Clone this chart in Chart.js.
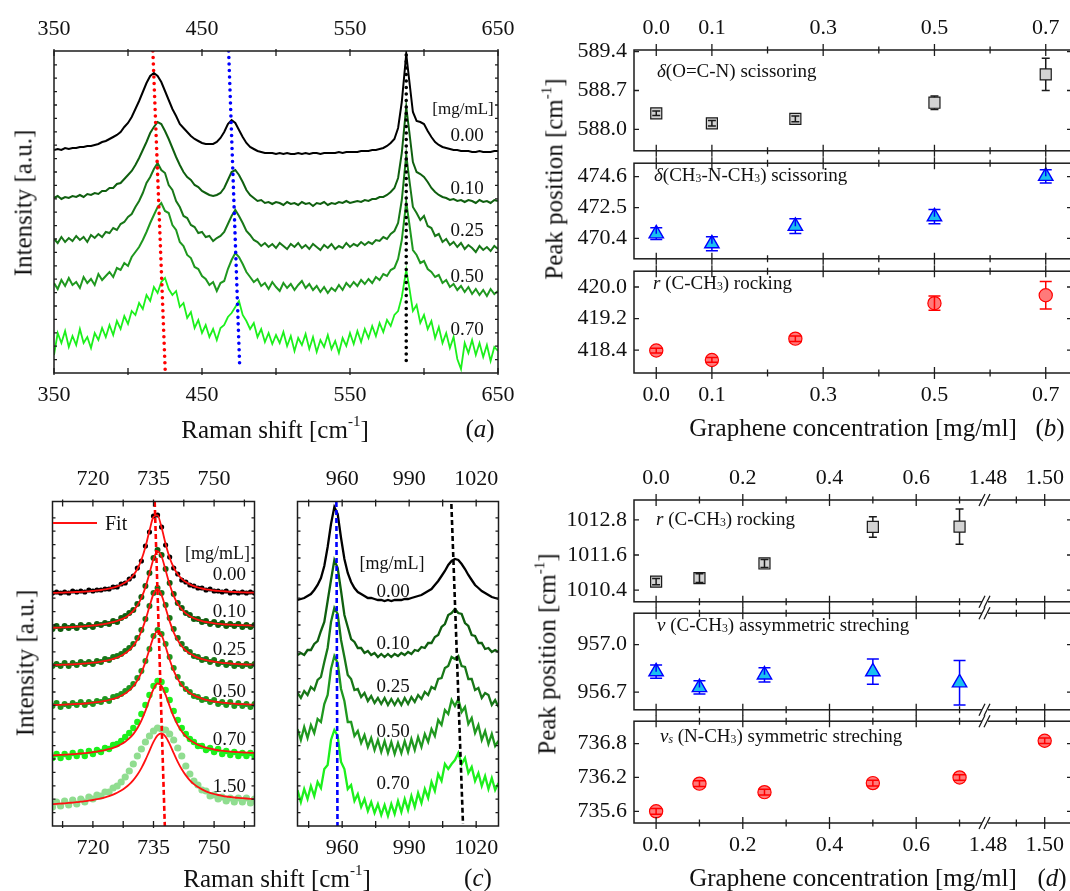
<!DOCTYPE html>
<html>
<head>
<meta charset="utf-8">
<script src="https://cdn.jsdelivr.net/npm/chart.js@4.4.0/dist/chart.umd.min.js"></script>
<style>
body { margin: 0; background: #fff; }
#page { position: relative; width: 1070px; height: 891px; overflow: hidden; background: #fff;
        font-family: 'Liberation Serif', 'Times New Roman', serif; color: #111; }
canvas { position: absolute; }
.t { position: absolute; white-space: nowrap; line-height: 1; }
.t sub { font-size: 0.62em; vertical-align: -0.08em; }
.t sup { font-size: 0.6em; vertical-align: 0.75em; }
</style>
</head>
<body>
<div id="page"></div>
<script>
// ---------- panel (a): Raman spectra 350-650 cm-1 ----------
const ramanShiftA = [350,352.5,355,357.5,360,362.5,365,367.5,370,372.5,375,377.5,380,382.5,385,387.5,390,392.5,395,397.5,
  400,402.5,405,407.5,410,412.5,415,417.5,420,422.5,425,427.5,430,432.5,435,437.5,440,442.5,445,447.5,
  450,452.5,455,457.5,460,462.5,465,467.5,470,472.5,475,477.5,480,482.5,485,487.5,490,492.5,495,497.5,
  500,502.5,505,507.5,510,512.5,515,517.5,520,522.5,525,527.5,530,532.5,535,537.5,540,542.5,545,547.5,
  550,552.5,555,557.5,560,562.5,565,567.5,570,572.5,575,577.5,580,582.5,585,
  588,590,592.5,595,597.5,600,602.5,605,607.5,610,612.5,615,617.5,620,622.5,625,627.5,630,632.5,635,637.5,640,642.5,645,647.5,650];
const intA000 = [223,224,223,225,224,225,225,226,226,227,227,228,229,231,232,234,236,238,241,246,
  250,256,264,272,281,290,297,300,297,291,282,273,264,257,249,245,241,237,234,232,
  230,229,229,229,231,235,241,249,253,250,243,236,230,226,224,222,221,220,220,220,
  219,220,219,220,219,219,220,219,220,219,220,220,219,220,220,220,220,221,220,221,
  221,221,221,222,222,222,223,223,224,225,227,230,234,245,271,
  319,293,261,252,251,249,242,236,231,228,226,225,224,223,223,222,222,222,221,221,222,221,221,221,222,222];
const intA010 = [175,177,174,176,175,177,176,178,176,179,178,180,179,182,182,185,185,189,190,194,
  198,202,208,215,223,231,240,246,251,249,242,234,225,216,208,201,196,193,188,186,
  182,180,178,177,178,180,185,193,201,203,198,191,183,178,175,172,173,170,171,169,
  171,170,168,171,169,170,168,171,169,170,167,170,169,171,168,170,169,171,170,172,
  170,171,172,171,173,172,174,174,176,176,178,181,185,195,220,
  266,242,211,201,199,196,191,185,181,178,176,175,173,174,172,173,171,173,172,170,173,171,172,170,173,172];
const intA025 = [134,130,136,131,135,132,137,133,136,131,138,135,139,136,141,140,145,143,149,151,
  156,159,166,172,180,190,196,204,210,203,200,188,183,172,166,157,155,148,146,140,
  141,136,137,132,135,137,141,149,157,163,157,150,142,138,133,131,127,130,126,129,
  125,130,127,124,129,126,130,125,128,124,129,126,123,128,125,129,124,127,125,130,
  126,129,127,131,128,131,129,133,132,136,134,139,142,150,173,
  218,194,166,160,153,157,147,145,137,139,131,134,128,131,126,130,124,128,125,121,127,123,126,122,127,124];
const intA050 = [90,84,93,87,95,88,91,85,96,90,94,88,99,93,97,101,96,105,103,110,
  107,116,121,126,133,141,150,158,166,170,162,160,148,143,131,127,118,115,106,104,
  97,94,88,91,82,90,92,104,113,120,116,109,101,96,91,94,87,90,84,91,
  86,82,90,85,89,83,88,92,85,89,83,87,81,86,80,85,82,88,83,90,
  86,91,87,93,89,94,90,96,93,99,97,103,105,114,133,
  171,150,123,118,110,112,104,101,96,98,90,93,86,89,83,87,81,86,79,84,78,83,77,84,79,82];
const intA070 = [18,40,30,42,26,37,28,44,30,36,25,40,33,45,36,48,38,52,44,57,
  49,62,58,70,64,78,72,86,80,91,95,84,78,82,66,70,55,61,45,53,
  40,48,36,44,33,45,48,56,60,66,72,58,52,44,50,36,44,31,40,29,
  38,30,41,27,37,22,35,28,39,24,36,21,33,26,38,24,32,20,35,27,
  40,29,42,31,44,35,47,37,50,41,53,47,58,62,76,
  103,86,62,68,50,58,44,52,35,46,30,40,25,36,14,4,30,20,33,18,30,16,28,12,26,22];
const guideA418X = [416.8, 425.2], guideA418Y = [322, 0];
const guideA470X = [468, 475.5], guideA470Y = [322, 5];
const guideA588X = [588, 588], guideA588Y = [318, 10];
const ticksAX = [350, 400, 450, 500, 550, 600, 650];
const labelsAX = [350, 450, 550, 650];

// ---------- panel (c), left: 735 band with fits ----------
const ramanShiftC1 = [710,711,712,713,714,715,716,717,718,719,720,721,722,723,724,725,726,727,728,729,730,
  731,732,733,734,735,736,737,738,739,740,741,742,743,744,745,746,747,748,749,750,
  751,752,753,754,755,756,757,758,759,760];
const fitC000 = [233.2,233.2,233.4,233.5,233.6,233.8,234.0,234.2,234.4,234.7,235.0,235.5,236.0,236.6,237.3,238.3,
  239.6,241.2,243.4,246.5,250.8,257.0,266.1,279.0,295.2,309.1,310.7,298.4,282.0,268.3,258.5,251.8,247.2,243.9,
  241.6,239.8,238.5,237.5,236.7,236.1,235.5,235.1,234.8,234.5,234.2,234.0,233.8,233.6,233.5,233.4,233.3];
const dotC000 = [233,234,233,234,233,235,234,235,234,236,235,236,236,237,237,239,239,242,243,247,250,
  258,265,280,294,310,311,299,281,269,258,252,246,244,241,240,238,238,236,237,235,235,234,235,233,234,233,234,233,234,233];
const fitC010 = [198.2,198.3,198.5,198.7,198.8,199.0,199.3,199.5,199.8,200.1,200.5,200.9,201.5,202.1,202.9,203.8,
  205.0,206.6,208.6,211.4,215.2,220.4,228.1,238.6,252.6,267.0,274.6,269.5,255.7,241.5,230.2,222.1,216.6,212.6,
  209.8,207.7,206.1,204.9,204.0,203.3,202.7,202.2,201.9,201.5,201.3,201.1,200.9,200.8,200.6,200.5,200.4];
const dotC010 = [197,200,197,200,198,200,198,201,199,201,199,202,201,203,202,205,204,208,210,213,216,
  222,229,240,253,268,276,271,257,243,232,223,218,213,211,207,207,204,205,202,204,201,203,200,202,200,202,199,201,199,201];
const fitC025 = [161.0,161.1,161.2,161.4,161.5,161.7,161.9,162.2,162.5,162.8,163.3,163.7,164.3,165.1,165.9,167.1,
  168.5,170.3,172.7,175.9,180.3,186.3,194.7,205.9,219.4,232.0,237.0,230.9,218.0,204.6,193.7,185.6,179.8,175.5,
  172.4,170.1,168.3,166.9,165.9,165.0,164.3,163.7,163.2,162.8,162.5,162.2,161.9,161.7,161.5,161.3,161.2];
const dotC025 = [160,162,160,163,160,163,161,164,162,164,162,165,164,167,166,169,170,172,175,178,182,
  188,196,207,220,233,238,233,221,208,197,188,182,177,174,170,169,166,167,164,166,162,164,161,163,160,162,160,162,160,162];
const fitC050 = [121.0,121.1,121.2,121.4,121.6,121.8,122.0,122.2,122.5,122.9,123.3,123.8,124.4,125.1,126.0,127.1,
  128.4,130.2,132.5,135.6,139.8,145.5,153.4,163.9,176.6,188.9,194.9,190.8,179.2,166.3,155.3,146.9,140.8,136.4,
  133.1,130.6,128.8,127.3,126.2,125.2,124.5,123.9,123.4,123.0,122.6,122.3,122.0,121.8,121.6,121.4,121.3];
const dotC050 = [120,123,119,122,120,123,121,124,121,124,122,125,124,127,125,129,130,132,135,138,142,
  148,155,165,177,190,196,192,182,169,158,149,142,137,134,130,129,126,127,124,126,122,124,121,124,120,123,120,122,119,122];
const fitC070 = [70.7,70.9,71.1,71.3,71.6,71.8,72.1,72.5,72.8,73.3,73.8,74.4,75.1,75.9,77.0,78.2,
  79.7,81.7,84.2,87.6,91.9,97.7,105.4,115.1,126.5,137.0,142.5,140.1,131.1,119.8,109.3,100.9,94.5,89.7,
  86.1,83.4,81.2,79.6,78.3,77.3,76.5,75.8,75.3,74.8,74.4,74.1,73.8,73.6,73.4,73.2,73.1];
const dotC070 = [68,72,68,72,69,73,70,74,70,75,72,76,74,78,77,81,82,85,89,93,98,
  104,112,121,131,140,145,144,136,126,115,106,98,92,87,84,80,80,76,78,74,77,72,75,71,74,70,73,70,73,70];
const fitC150 = [21.9,22.1,22.4,22.7,23.1,23.4,23.8,24.3,24.8,25.4,26.0,26.8,27.7,28.7,29.9,31.4,
  33.2,35.4,38.2,41.6,45.9,51.2,57.9,66.0,75.1,84.1,90.7,92.7,89.3,81.9,72.9,64.2,56.7,50.6,
  45.7,41.9,38.9,36.6,34.7,33.2,32.0,31.0,30.2,29.5,29.0,28.5,28.1,27.8,27.5,27.2,26.9];
const dotC150 = [19,24,20,25,21,26,22,27,24,29,27,31,30,34,34,38,40,44,49,55,62,
  70,77,84,90,95,98,97,96,92,86,78,70,60,52,45,41,36,35,30,31,27,29,25,28,24,28,24,28,23,27];
const guideC735X = [735.3, 737.8], guideC735Y = [324, 0];
const ticksC1X = [712.5, 720, 727.5, 735, 742.5, 750, 757.5];
const labelsC1X = [720, 735, 750];

// ---------- panel (c), right: 940-1030 cm-1 ----------
const ramanShiftC2 = [940,941.5,943,944.5,946,947.5,949,950.5,952,953.5,955,956.5,958,959.5,961,962.5,964,965.5,967,968.5,
  970,971.5,973,974.5,976,977.5,979,980.5,982,983.5,985,986.5,988,989.5,991,992.5,994,995.5,997,998.5,
  1000,1001.5,1003,1004.5,1006,1007.5,1009,1010.5,1012,1013.5,1015,1016.5,1018,1019.5,1021,1022.5,1024,1025.5,1027,1028.5,1030];
const intC2000 = [226,227,228,230,232,236,241,248,260,279,302,319,312,288,267,253,244,238,234,232,
  230,228,228,227,226,226,225,226,225,226,226,226,227,227,228,229,230,231,233,235,
  237,241,245,250,255,261,265,267,266,262,257,251,246,241,238,235,233,231,229,228,227];
const intC2010 = [171,173,171,176,176,182,185,195,204,225,246,266,258,235,211,199,187,184,178,178,
  173,175,171,173,169,172,169,172,169,172,170,173,171,174,172,176,175,179,178,183,
  183,189,191,199,202,211,213,217,213,212,203,200,191,190,183,183,177,178,174,176,174];
const intC2025 = [133,128,135,131,139,136,146,149,164,178,204,218,212,186,169,151,147,136,137,129,
  133,125,130,123,128,122,128,121,127,121,127,121,128,122,129,124,131,127,134,131,
  139,137,147,148,158,160,169,167,170,160,159,147,147,136,138,128,133,131,121,126,119];
const intC2050 = [97,86,99,88,101,93,107,104,122,131,157,170,163,137,125,104,104,90,95,83,
  91,79,88,76,86,74,85,73,84,72,83,73,85,74,87,76,89,79,92,84,
  97,90,106,101,116,112,126,120,127,114,119,102,108,93,101,86,95,82,92,80,85];
const intC2070 = [36,24,37,27,40,30,44,38,57,61,86,96,90,64,57,37,41,25,32,19,
  27,15,24,13,22,11,21,10,22,12,25,14,27,16,30,19,33,23,37,28,
  44,35,52,45,62,57,62,66,73,62,68,53,59,45,53,40,50,37,48,36,43];
const guideC957X = [957.4, 957.9], guideC957Y = [324, 0];
const guideC1010X = [1008.9, 1014.1], guideC1010Y = [322, 2];
const ticksC2X = [945, 960, 975, 990, 1005, 1020];
const labelsC2X = [960, 990, 1020];

// ---------- panel (b): peak positions vs concentration ----------
const concentration = [0, 0.1, 0.25, 0.5, 0.7];
const peakOCN = [588.29, 588.11, 588.19, 588.48, 588.99];
const peakOCNErr = [0.04, 0.05, 0.05, 0.12, 0.29];
const peakCNC = [470.72, 470.04, 471.23, 471.88, 474.63];
const peakCNCErr = [0.40, 0.48, 0.50, 0.49, 0.45];
const peakCC418 = [418.39, 418.15, 418.69, 419.59, 419.79];
const peakCC418Err = [0.06, 0.06, 0.07, 0.18, 0.35];
const ticksBX = [0, 0.1, 0.2, 0.3, 0.4, 0.5, 0.6, 0.7];
const labelsBX = [0, 0.1, 0.3, 0.5, 0.7];
const ticksB1Y = [588.0, 588.7, 589.4];
const ticksB2Y = [470.4, 472.5, 474.6];
const ticksB3Y = [418.4, 419.2, 420.0];

// ---------- panel (d): peak positions vs concentration (broken axis) ----------
const concentrationD = [0, 0.1, 0.25, 0.5, 0.7, 1.5];
const peakCC1010 = [1010.69, 1010.81, 1011.31, 1012.56, 1012.57];
const peakCC1010Err = [0.11, 0.15, 0.14, 0.35, 0.6];
const peakCC957 = [956.83, 956.73, 956.81, 956.83, 956.76];
const peakCC957Err = [0.042, 0.042, 0.045, 0.079, 0.14];
const peakNC736 = [735.6, 736.09, 735.94, 736.1, 736.2, 736.85];
const peakNC736Err = [0.05, 0.05, 0.05, 0.05, 0.05, 0.05];
const ticksDX = [0, 0.1, 0.2, 0.3, 0.4, 0.5, 0.6, 0.7, 1.49, 1.50];
const labelsDX = [0, 0.2, 0.4, 0.6, 1.48, 1.50];
const ticksD1Y = [1010.4, 1011.6, 1012.8];
const ticksD2Y = [956.7, 957.0];
const ticksD3Y = [735.6, 736.2, 736.8];

// axis break on (d): values above 1 are drawn right of the break
const BREAK_FROM = 1.48, BREAK_AT = 0.7656, BREAK_SCALE = 6.54, BREAK_MARK = 0.7587;
function axisPos(v) { return v < 1 ? v : BREAK_AT + (v - BREAK_FROM) * BREAK_SCALE; }

const FONT = "'Liberation Serif', 'Times New Roman', serif";
const COL = { c000: '#000000', c010: '#0f5f0f', c025: '#187818', c050: '#1f981f', c070: '#1cf01c', c150: '#90dd90' };
const page = document.getElementById('page');

function pts(xs, ys, fx) { return xs.map((x, i) => ({ x: fx ? fx(x) : x, y: ys[i] })); }
const near = (list, v) => list.some(l => Math.abs(l - v) < 1e-6);

function txt(html, x, y, size, anchor, rotate) {
  const d = document.createElement('div');
  d.className = 't';
  d.innerHTML = html;
  d.style.fontSize = size + 'px';
  d.style.left = x + 'px';
  d.style.top = y + 'px';
  const tx = anchor === 'l' ? '0' : anchor === 'r' ? '-100%' : '-50%';
  d.style.transform = 'translate(' + tx + ', -50%)' + (rotate ? ' rotate(-90deg)' : '');
  page.appendChild(d);
}

// scale whose box size is fixed, so the plot area lands where the picture has it
function tickAxis(min, max, ticks, labelFn, position, show, pad, size) {
  const horizontal = position === 'top' || position === 'bottom';
  return {
    type: 'linear', position: position, min: min, max: max, bounds: 'data',
    afterBuildTicks: s => { s.ticks = ticks.map(v => ({ value: v })); },
    afterFit: s => { if (horizontal) s.height = size; else s.width = size; },
    grid: { display: false, drawTicks: false },
    border: { display: false },
    ticks: { display: show, autoSkip: false, maxRotation: 0, minRotation: 0, padding: pad, color: '#111',
             font: { family: FONT, size: 22 }, callback: v => labelFn(v) }
  };
}

// frame, inward ticks and (optional) axis break
function framePlugin(o) {
  return {
    id: 'frame',
    afterDraw(chart) {
      const ctx = chart.ctx, a = chart.chartArea;
      const xs = chart.scales.x, ys = chart.scales.y;
      ctx.save();
      ctx.strokeStyle = '#1c1c1c';
      ctx.lineWidth = 1.5;
      ctx.strokeRect(a.left, a.top, a.right - a.left, a.bottom - a.top);
      ctx.lineWidth = 1.3;
      ctx.beginPath();
      o.xMarks.forEach(v => {
        const px = xs.getPixelForValue(v);
        const big = near(o.xMajor, v);
        const tin = big ? o.majIn : o.minIn, tout = big ? o.majOut : o.minOut;
        ctx.moveTo(px, a.top - tout); ctx.lineTo(px, a.top + tin);
        ctx.moveTo(px, a.bottom + tout); ctx.lineTo(px, a.bottom - tin);
      });
      o.yMarks.forEach(v => {
        const py = ys.getPixelForValue(v);
        ctx.moveTo(a.left, py); ctx.lineTo(a.left + o.yIn, py);
        ctx.moveTo(a.right, py); ctx.lineTo(a.right - o.yIn, py);
      });
      ctx.stroke();
      if (o.breakAt !== undefined) {
        const bx = xs.getPixelForValue(o.breakAt);
        [a.top, a.bottom].forEach(y => {
          ctx.fillStyle = '#fff';
          ctx.fillRect(bx - 3, y - 2, 6, 4);
          ctx.beginPath();
          ctx.moveTo(bx - 6, y + 6); ctx.lineTo(bx, y - 6);
          ctx.moveTo(bx - 1, y + 6); ctx.lineTo(bx + 5, y - 6);
          ctx.stroke();
        });
      }
      ctx.restore();
    }
  };
}

const errorBarPlugin = {
  id: 'errbars',
  afterDatasetsDraw(chart) {
    const ctx = chart.ctx;
    chart.data.datasets.forEach((ds, i) => {
      if (!ds.errs) return;
      const meta = chart.getDatasetMeta(i);
      const ys = chart.scales[meta.yAxisID];
      ctx.save();
      ctx.strokeStyle = ds.errColor;
      ctx.lineWidth = 1.5;
      meta.data.forEach((p, j) => {
        const v = ds.data[j].y, e = ds.errs[j];
        const y1 = ys.getPixelForValue(v + e), y2 = ys.getPixelForValue(v - e);
        const x = p.x, w = ds.capHalf, cy = p.y;
        ctx.beginPath();
        if (cy - y1 > ds.gapTop + 1) { ctx.moveTo(x, y1); ctx.lineTo(x, cy - ds.gapTop); }
        else { ctx.moveTo(x, y1); ctx.lineTo(x, cy); }
        if (y2 - cy > ds.gapBottom + 1) { ctx.moveTo(x, y2); ctx.lineTo(x, cy + ds.gapBottom); }
        else { ctx.moveTo(x, y2); ctx.lineTo(x, cy); }
        ctx.moveTo(x - w, y1); ctx.lineTo(x + w, y1);
        ctx.moveTo(x - w, y2); ctx.lineTo(x + w, y2);
        ctx.stroke();
      });
      ctx.restore();
    });
  }
};

function makeChart(box, pad, datasets, ax, frame) {
  const c = document.createElement('canvas');
  const cl = Math.floor(box.l - pad.l), ct = Math.floor(box.t - pad.t);
  const w = Math.ceil(box.r + pad.r) - cl, h = Math.ceil(box.b + pad.b) - ct;
  const padL = box.l - cl, padT = box.t - ct, padR = w - (box.r - cl), padB = h - (box.b - ct);
  c.width = w; c.height = h;
  c.style.left = cl + 'px'; c.style.top = ct + 'px';
  c.style.width = w + 'px'; c.style.height = h + 'px';
  page.appendChild(c);
  return new Chart(c, {
    type: 'scatter',
    data: { datasets: datasets },
    options: {
      responsive: false, animation: false, events: [], devicePixelRatio: 1,
      layout: { padding: { left: 0, top: 0, right: padR, bottom: 0 } },
      plugins: { legend: { display: false }, tooltip: { enabled: false } },
      scales: {
        x: tickAxis(ax.xMin, ax.xMax, ax.xTicks, ax.xLabel, 'bottom', !!ax.bottom, ax.padB || 9, padB),
        x2: tickAxis(ax.xMin, ax.xMax, ax.xTicks, ax.xLabel, 'top', !!ax.top, ax.padT || 9, padT),
        y: tickAxis(ax.yMin, ax.yMax, ax.yTicks, ax.yLabel || (() => ''), 'left', !!ax.left, 7, padL)
      }
    },
    plugins: [framePlugin(frame), errorBarPlugin]
  });
}

function spec(xs, ys, color, width, order) {
  return { data: pts(xs, ys), showLine: true, borderColor: color, borderWidth: width, pointRadius: 0, order: order || 0 };
}
function guide(xs, ys, color, dash, width, round) {
  return { data: pts(xs, ys), showLine: true, borderColor: color, borderWidth: width, borderDash: dash,
           borderCapStyle: round ? 'round' : 'butt', pointRadius: 0, order: -5 };
}
function dots(xs, ys, color, r) {
  return { data: pts(xs, ys), showLine: false, pointRadius: r, pointBorderWidth: 0,
           pointBackgroundColor: color, pointBorderColor: color, order: 2 };
}
function fit(xs, ys) {
  return { data: pts(xs, ys), showLine: true, borderColor: '#ff1010', borderWidth: 1.8,
           cubicInterpolationMode: 'monotone', pointRadius: 0, order: -1 };
}
const MARK = {
  square: { pointStyle: 'rect', pointRadius: 7.8, pointBackgroundColor: '#d3d3d3', pointBorderColor: '#1a1a1a',
            pointBorderWidth: 1.2, errColor: '#1a1a1a', capHalf: 4, gapTop: 5.5, gapBottom: 5.5 },
  triangle: { pointStyle: 'triangle', pointRadius: 8.3, pointBackgroundColor: '#19bff0', pointBorderColor: '#0000ff',
              pointBorderWidth: 1.4, errColor: '#0000ff', capHalf: 6, gapTop: 8, gapBottom: 4 },
  circle: { pointStyle: 'circle', pointRadius: 6.6, pointBackgroundColor: '#ff7a7a', pointBorderColor: '#ff0000',
            pointBorderWidth: 1.2, errColor: '#ff0000', capHalf: 6, gapTop: 6.6, gapBottom: 6.6 }
};
function markers(xs, ys, errs, kind, fx) {
  return Object.assign({ data: pts(xs, ys, fx), showLine: false, errs: errs }, MARK[kind]);
}

const spectraYMinor = [];
for (let v = 13.4; v < 320; v += 13.4) spectraYMinor.push(v);

// ---------- (a) ----------
makeChart({ l: 54, t: 51, r: 498, b: 373 }, { l: 30, t: 42, r: 30, b: 42 }, [
  guide(guideA418X, guideA418Y, '#ff0000', [0, 6.5], 3.6, true),
  guide(guideA470X, guideA470Y, '#0000ff', [0, 6.5], 3.6, true),
  guide(guideA588X, guideA588Y, '#000000', [0, 6.5], 3.6, true),
  spec(ramanShiftA, intA000, COL.c000, 2),
  spec(ramanShiftA, intA010, COL.c010, 2),
  spec(ramanShiftA, intA025, COL.c025, 2),
  spec(ramanShiftA, intA050, COL.c050, 2),
  spec(ramanShiftA, intA070, COL.c070, 1.8)
], { xMin: 350, xMax: 650, xTicks: ticksAX, xLabel: v => near(labelsAX, v) ? String(v) : '',
     yMin: 0, yMax: 322, yTicks: [], top: true, bottom: true, padT: 9, padB: 9 },
   { xMarks: ticksAX, xMajor: labelsAX, majIn: 5, majOut: 2, minIn: 5, minOut: 2, yMarks: spectraYMinor, yIn: 3 });

txt('Intensity [a.u.]', 23, 203, 25, 'c', true);
txt('Raman shift [cm<sup>-1</sup>]', 275, 428, 25, 'c');
txt('(<i>a</i>)', 480, 428, 25, 'c');
txt('[mg/mL]', 463, 108, 17, 'c');
[['0.00', 134], ['0.10', 187], ['0.25', 229], ['0.50', 275], ['0.70', 328]].forEach(p => txt(p[0], 467, p[1], 19, 'c'));

// ---------- (c) left ----------
makeChart({ l: 52.5, t: 501.5, r: 254.5, b: 826 }, { l: 30, t: 42, r: 24, b: 42 }, [
  guide(guideC735X, guideC735Y, '#ff0000', [5, 3], 2.6, false),
  fit(ramanShiftC1, fitC000), fit(ramanShiftC1, fitC010), fit(ramanShiftC1, fitC025),
  fit(ramanShiftC1, fitC050), fit(ramanShiftC1, fitC070), fit(ramanShiftC1, fitC150),
  dots(ramanShiftC1, dotC000, COL.c000, 2.6),
  dots(ramanShiftC1, dotC010, COL.c010, 3),
  dots(ramanShiftC1, dotC025, COL.c025, 3),
  dots(ramanShiftC1, dotC050, COL.c050, 3),
  dots(ramanShiftC1, dotC070, COL.c070, 3.2),
  dots(ramanShiftC1, dotC150, COL.c150, 3.6)
], { xMin: 710, xMax: 760, xTicks: ticksC1X, xLabel: v => near(labelsC1X, v) ? String(v) : '',
     yMin: 0, yMax: 324.5, yTicks: [], top: true, bottom: true, padT: 9, padB: 9 },
   { xMarks: ticksC1X, xMajor: labelsC1X, majIn: 5, majOut: 2, minIn: 5, minOut: 2, yMarks: spectraYMinor, yIn: 3 });

// ---------- (c) right ----------
makeChart({ l: 297.5, t: 501.5, r: 498.5, b: 826 }, { l: 24, t: 42, r: 30, b: 42 }, [
  guide(guideC957X, guideC957Y, '#0000ff', [5, 3], 2.6, false),
  guide(guideC1010X, guideC1010Y, '#000000', [5, 3], 2.6, false),
  spec(ramanShiftC2, intC2000, COL.c000, 2.3),
  spec(ramanShiftC2, intC2010, COL.c010, 2.3),
  spec(ramanShiftC2, intC2025, COL.c025, 2.3),
  spec(ramanShiftC2, intC2050, COL.c050, 2.3),
  spec(ramanShiftC2, intC2070, COL.c070, 2.3)
], { xMin: 940, xMax: 1030, xTicks: ticksC2X, xLabel: v => near(labelsC2X, v) ? String(v) : '',
     yMin: 0, yMax: 324.5, yTicks: [], top: true, bottom: true, padT: 9, padB: 9 },
   { xMarks: ticksC2X, xMajor: labelsC2X, majIn: 5, majOut: 2, minIn: 5, minOut: 2, yMarks: spectraYMinor, yIn: 3 });

txt('Intensity [a.u.]', 25, 663, 25, 'c', true);
txt('Raman shift [cm<sup>-1</sup>]', 277, 877, 25, 'c');
txt('(<i>c</i>)', 478, 877, 25, 'c');
const fitKey = document.createElement('div');
fitKey.style.cssText = 'position:absolute;left:53px;top:522px;width:44px;height:2px;background:#ff1010;';
page.appendChild(fitKey);
txt('Fit', 105, 523, 20, 'l');
txt('[mg/mL]', 250, 553, 18, 'r');
[['0.00', 573], ['0.10', 610], ['0.25', 648], ['0.50', 690], ['0.70', 738], ['1.50', 785]].forEach(p => txt(p[0], 246, p[1], 19, 'r'));
txt('[mg/mL]', 392, 563, 18, 'c');
[['0.00', 590], ['0.10', 642], ['0.25', 685], ['0.50', 730], ['0.70', 782]].forEach(p => txt(p[0], 393, p[1], 19, 'c'));

// ---------- (b) ----------
const bLabel = v => near(labelsBX, v) ? v.toFixed(1) : '';
const yFmt = v => v.toFixed(1);
const bFrame = yT => ({ xMarks: ticksBX, xMajor: labelsBX, majIn: 6, majOut: 6, minIn: 3.5, minOut: 3.5, yMarks: yT, yIn: 5 });
makeChart({ l: 634, t: 50, r: 1072, b: 157 }, { l: 95, t: 42, r: 10, b: 14 },
  [markers(concentration, peakOCN, peakOCNErr, 'square')],
  { xMin: -0.04, xMax: 0.7472, xTicks: ticksBX, xLabel: bLabel, yMin: 587.615, yMax: 589.429, yTicks: ticksB1Y,
    yLabel: yFmt, top: true, left: true, padT: 9 }, bFrame(ticksB1Y));
makeChart({ l: 634, t: 157, r: 1072, b: 265 }, { l: 95, t: 14, r: 10, b: 14 },
  [markers(concentration, peakCNC, peakCNCErr, 'triangle')],
  { xMin: -0.04, xMax: 0.7472, xTicks: ticksBX, xLabel: bLabel, yMin: 469.01, yMax: 475.52, yTicks: ticksB2Y,
    yLabel: yFmt, left: true }, bFrame(ticksB2Y));
makeChart({ l: 634, t: 265, r: 1072, b: 373 }, { l: 95, t: 14, r: 10, b: 42 },
  [markers(concentration, peakCC418, peakCC418Err, 'circle')],
  { xMin: -0.04, xMax: 0.7472, xTicks: ticksBX, xLabel: bLabel, yMin: 417.82, yMax: 420.40, yTicks: ticksB3Y,
    yLabel: yFmt, bottom: true, left: true, padB: 9 }, bFrame(ticksB3Y));

txt('Peak position [cm<sup>-1</sup>]', 553, 179, 25, 'c', true);
txt('Graphene concentration [mg/ml]', 853, 427, 25, 'c');
txt('(<i>b</i>)', 1050, 427, 25, 'c');
txt('<i>δ</i>(O=C-N) scissoring', 657, 70, 19, 'l');
txt('<i>δ</i>(CH<sub>3</sub>-N-CH<sub>3</sub>) scissoring', 654, 175, 19, 'l');
txt('<i>r</i> (C-CH<sub>3</sub>) rocking', 653, 283, 19, 'l');

// ---------- (d) ----------
const dTickPos = ticksDX.map(axisPos);
const dLabelPos = labelsDX.map(axisPos);
const dScaleTicks = dTickPos.concat([axisPos(1.48)]).sort((p, q) => p - q);
const dLabel = v => {
  const hit = labelsDX.find(l => Math.abs(axisPos(l) - v) < 1e-6);
  return hit === undefined ? '' : (hit < 1 ? hit.toFixed(1) : hit.toFixed(2));
};
const dFrame = yT => ({ xMarks: dTickPos, xMajor: dLabelPos, majIn: 6, majOut: 6, minIn: 3.5, minOut: 3.5,
                        yMarks: yT, yIn: 5, breakAt: BREAK_MARK });
makeChart({ l: 634, t: 500, r: 1072, b: 607.3 }, { l: 95, t: 42, r: 10, b: 14 },
  [markers(concentrationD.slice(0, 5), peakCC1010, peakCC1010Err, 'square', axisPos)],
  { xMin: -0.051, xMax: 0.9594, xTicks: dScaleTicks, xLabel: dLabel, yMin: 1010.0, yMax: 1013.48, yTicks: ticksD1Y,
    yLabel: yFmt, top: true, left: true, padT: 9 }, dFrame(ticksD1Y));
makeChart({ l: 634, t: 607.3, r: 1072, b: 715.7 }, { l: 95, t: 14, r: 10, b: 14 },
  [markers(concentrationD.slice(0, 5), peakCC957, peakCC957Err, 'triangle', axisPos)],
  { xMin: -0.051, xMax: 0.9594, xTicks: dScaleTicks, xLabel: dLabel, yMin: 956.589, yMax: 957.199, yTicks: ticksD2Y,
    yLabel: yFmt, left: true }, dFrame(ticksD2Y));
makeChart({ l: 634, t: 715.7, r: 1072, b: 823 }, { l: 95, t: 14, r: 10, b: 42 },
  [markers(concentrationD, peakNC736, peakNC736Err, 'circle', axisPos)],
  { xMin: -0.051, xMax: 0.9594, xTicks: dScaleTicks, xLabel: dLabel, yMin: 735.393, yMax: 737.197, yTicks: ticksD3Y,
    yLabel: yFmt, bottom: true, left: true, padB: 9 }, dFrame(ticksD3Y));

txt('Peak position [cm<sup>-1</sup>]', 546, 654, 25, 'c', true);
txt('Graphene concentration [mg/ml]', 853, 877, 25, 'c');
txt('(<i>d</i>)', 1052, 877, 25, 'c');
txt('<i>r</i> (C-CH<sub>3</sub>) rocking', 656, 519, 19, 'l');
txt('<i>ν</i> (C-CH<sub>3</sub>) assymmetric streching', 657, 625, 19, 'l');
txt('<i>ν<sub>s</sub></i> (N-CH<sub>3</sub>) symmetric streching', 660, 736, 19, 'l');
</script>
</body>
</html>
